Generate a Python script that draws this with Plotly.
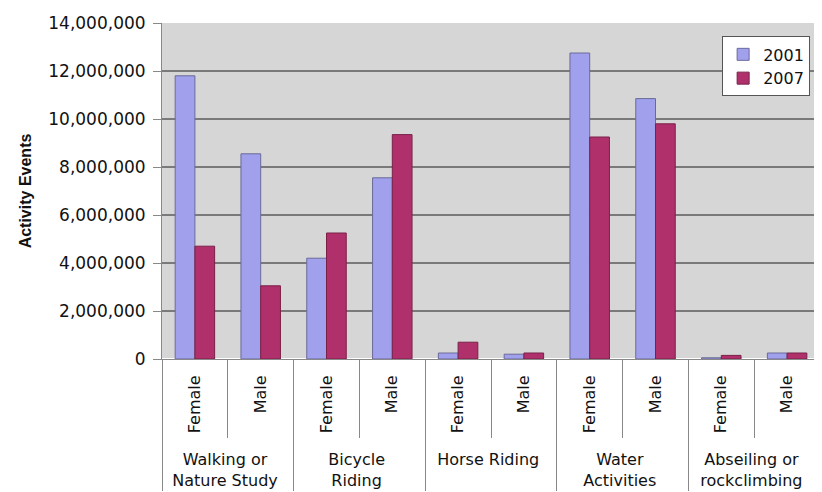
import plotly.graph_objects as go

# activity groups and sex (outer / inner category)
groups = ["Walking or<br>Nature Study", "Bicycle<br>Riding", "Horse Riding",
          "Water<br>Activities", "Abseiling or<br>rockclimbing"]
sexes = ["Female", "Male"]

# activity events
y2001 = [11800000, 8550000, 4200000, 7550000, 250000, 200000,
         12750000, 10850000, 50000, 250000]
y2007 = [4700000, 3050000, 5250000, 9350000, 700000, 250000,
         9250000, 9800000, 150000, 250000]

outer = [g for g in groups for s in sexes]
# leading no-break spaces push the group row a little lower
inner = ["\u00a0\u00a0" + s for g in groups for s in sexes]

fig = go.Figure()
fig.add_trace(go.Bar(x=[outer, inner], y=y2001, name="2001",
                     marker=dict(color="#A0A0EC", line=dict(color="#6A6A9A", width=1))))
fig.add_trace(go.Bar(x=[outer, inner], y=y2007, name="2007",
                     marker=dict(color="#B0306C", line=dict(color="#7A2048", width=1))))

font = "DejaVu Sans, Arial, sans-serif"
# page body has an 8px margin, so the figure is 8px smaller than the window
fig.update_layout(
    width=814, height=484,
    margin=dict(l=154, r=2, t=15, b=129),
    paper_bgcolor="white",
    plot_bgcolor="#D6D6D6",
    barmode="group",
    bargap=0.4,
    bargroupgap=0,
    font=dict(family=font, size=16, color="#111111"),
    legend=dict(x=0.985, y=0.96, xanchor="right", yanchor="top",
                bgcolor="white", bordercolor="#555555", borderwidth=1,
                font=dict(size=16), tracegroupgap=4, itemwidth=30),
    showlegend=True,
)
fig.update_yaxes(
    range=[0, 14000000], dtick=2000000, tickformat=",d",
    showgrid=True, gridcolor="#7A7A7A", gridwidth=1.5,
    showline=True, linecolor="#888888",
    ticks="outside", ticklen=8, tickcolor="#888888",
    ticklabelstandoff=4,
    tickfont=dict(size=17),
    # trailing spaces nudge the title a bit below the axis centre, as in the original
    title=dict(text="<b>Activity Events</b>" + "\u00a0" * 10,
               font=dict(size=16, family="Arial"), standoff=12),
)
fig.update_xaxes(
    type="multicategory",
    tickangle=-90,
    showline=True, linecolor="#888888",
    ticks="outside", ticklen=78, tickcolor="#888888",
    ticklabelstandoff=9,
    showdividers=True, dividercolor="#888888", dividerwidth=1,
    tickfont=dict(size=16),
)

fig.write_html("out.html")
